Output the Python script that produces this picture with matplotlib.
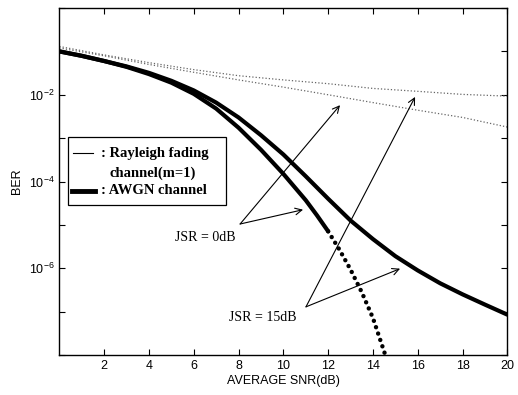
import numpy as np
import matplotlib
matplotlib.use("Agg")
import matplotlib.pyplot as plt
from matplotlib.patches import Rectangle
from matplotlib.lines import Line2D

plt.rcParams['font.family'] = ['Liberation Sans', 'DejaVu Sans']
plt.rcParams['mathtext.fontset'] = 'custom'
plt.rcParams['mathtext.rm'] = 'Liberation Sans'

# BER curves per SNR (dB)
snr_ray = [0, 2, 4, 6, 8, 10, 12, 14, 16, 18, 20]
ber_ray_a = [1.3e-1, 8.3e-2, 5.5e-2, 3.8e-2, 2.75e-2, 2.2e-2, 1.8e-2, 1.4e-2, 1.2e-2, 1.02e-2, 9.3e-3]
ber_ray_b = [1.2e-1, 7.9e-2, 5.0e-2, 3.3e-2, 2.2e-2, 1.5e-2, 1.0e-2, 6.6e-3, 4.4e-3, 3.0e-3, 1.8e-3]

snr_awgn_a = [0, 1, 2, 3, 4, 5, 6, 7, 8, 9, 10, 11, 12, 13, 14, 15, 16, 17, 18, 19, 20]
ber_awgn_a = [1.0e-1, 7.9e-2, 6.0e-2, 4.5e-2, 3.2e-2, 2.1e-2, 1.26e-2, 6.6e-3, 3.0e-3,
              1.17e-3, 4.2e-4, 1.32e-4, 4.0e-5, 1.26e-5, 4.7e-6, 1.9e-6, 8.9e-7,
              4.5e-7, 2.5e-7, 1.45e-7, 8.5e-8]

snr_awgn_b = [0, 1, 2, 3, 4, 5, 6, 7, 8, 9, 10, 11, 11.5, 12, 12.5, 13, 13.5, 14, 14.55]
ber_awgn_b = [1.0e-1, 7.9e-2, 6.0e-2, 4.4e-2, 3.0e-2, 1.9e-2, 1.05e-2, 4.8e-3, 1.74e-3,
              5.4e-4, 1.5e-4, 3.7e-5, 1.66e-5, 7.1e-6, 2.7e-6, 9.3e-7, 2.8e-7, 7.1e-8, 1.0e-8]

x_ticks = [2, 4, 6, 8, 10, 12, 14, 16, 18, 20]
y_ticks = [1e0, 1e-1, 1e-2, 1e-3, 1e-4, 1e-5, 1e-6, 1e-7, 1e-8]
y_labels = ['', '', r'$\mathregular{10^{-2}}$', '', r'$\mathregular{10^{-4}}$', '',
            r'$\mathregular{10^{-6}}$', '', '']

fig = plt.figure(figsize=(5.18, 3.95), dpi=100)
ax = fig.add_axes([0.1145, 0.1013, 0.865, 0.8784])

# rayleigh fading curves (thin dotted)
ax.plot(snr_ray, ber_ray_a, ls=':', lw=0.9, color='0.4')
ax.plot(snr_ray, ber_ray_b, ls=':', lw=0.9, color='0.4')

# AWGN curves (thick); the steep tail of the second one is dotted
ax.plot(snr_awgn_a, ber_awgn_a, color='black', lw=3.0, solid_capstyle='round',
        solid_joinstyle='round')
n_solid = snr_awgn_b.index(12) + 1
ax.plot(snr_awgn_b[:n_solid], ber_awgn_b[:n_solid], color='black', lw=3.0,
        solid_capstyle='round', solid_joinstyle='round')
ax.plot(snr_awgn_b[n_solid - 1:], ber_awgn_b[n_solid - 1:], color='black', lw=3.2,
        ls=(0, (0.01, 1.5)), dash_capstyle='round', clip_on=False)

ax.set_yscale('log')
ax.set_xlim(0, 20)
ax.set_ylim(1e-8, 1)
ax.set_xticks(x_ticks)
ax.set_yticks(y_ticks)
ax.set_yticklabels(y_labels)
ax.minorticks_off()
ax.tick_params(direction='in', top=True, right=True, length=4, width=0.8,
               labelsize=9)
for s in ax.spines.values():
    s.set_linewidth(1.0)

ax.set_xlabel('AVERAGE SNR(dB)', fontsize=9, labelpad=2)
ax.set_ylabel('BER', fontsize=9, labelpad=4)

# legend box drawn by hand
serif_b = dict(family=['Liberation Serif', 'DejaVu Serif'], weight='bold', fontsize=10.5)
ax.add_patch(Rectangle((0.019, 0.433), 0.354, 0.196, transform=ax.transAxes,
                       fill=True, facecolor='white', edgecolor='black', lw=0.9, zorder=5))
ax.add_line(Line2D([0.031, 0.075], [0.581, 0.581], transform=ax.transAxes,
                   color='black', lw=0.8, zorder=6))
ax.add_line(Line2D([0.029, 0.080], [0.473, 0.473], transform=ax.transAxes,
                   color='black', lw=3.5, zorder=6))
ax.text(0.094, 0.581, ': Rayleigh fading', transform=ax.transAxes, va='center',
        zorder=6, **serif_b)
ax.text(0.113, 0.523, 'channel(m=1)', transform=ax.transAxes, va='center',
        zorder=6, **serif_b)
ax.text(0.094, 0.473, ': AWGN channel', transform=ax.transAxes, va='center',
        zorder=6, **serif_b)

# JSR annotations
serif = dict(family=['Liberation Serif', 'DejaVu Serif'], fontsize=10)
arrow = dict(arrowstyle='->', lw=0.8, color='black', shrinkA=0, shrinkB=0,
             mutation_scale=12)
ax.text(6.5, 10 ** -5.3, 'JSR = 0dB', ha='center', va='center', **serif)
for tip in [(10.88, 10 ** -4.65), (12.53, 10 ** -2.24)]:
    ax.annotate('', xy=tip, xytext=(8.07, 10 ** -4.98), arrowprops=arrow)
ax.text(9.09, 10 ** -7.14, 'JSR = 15dB', ha='center', va='center', **serif)
for tip in [(15.21, 10 ** -6.01), (15.88, 10 ** -2.05)]:
    ax.annotate('', xy=tip, xytext=(11.01, 10 ** -6.89), arrowprops=arrow)

fig.savefig('out.png', dpi=100)
